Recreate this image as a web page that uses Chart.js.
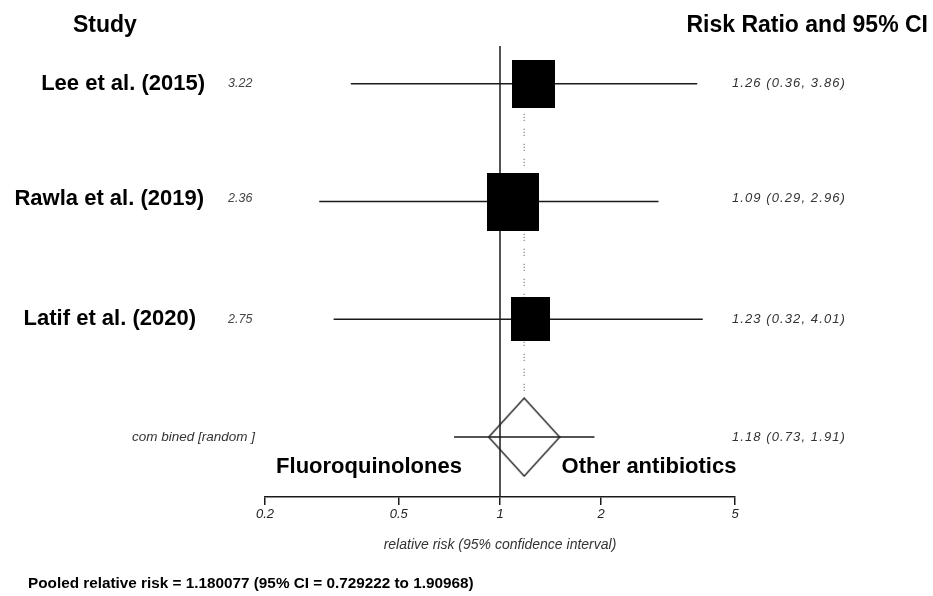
<!DOCTYPE html>
<html>
<head>
<meta charset="utf-8">
<script src="https://cdn.jsdelivr.net/npm/chart.js@4"></script>
<style>
  html, body { margin: 0; padding: 0; background: #fff; }
  canvas { display: block; }
</style>
</head>
<body>
<canvas id="forest" width="933" height="596"></canvas>
<script>
// data
const studies = ['Lee et al. (2015)', 'Rawla et al. (2019)', 'Latif et al. (2020)'];
const weights = [3.22, 2.36, 2.75];
const rr = [1.26, 1.09, 1.23];
const lower = [0.36, 0.29, 0.32];
const upper = [3.86, 2.96, 4.01];
const pooledRR = 1.18;
const pooledLower = 0.73;
const pooledUpper = 1.91;
const xTicks = [0.2, 0.5, 1, 2, 5];

// layout / style
const FONT = '"Liberation Sans", Arial, sans-serif';
const ROW_PX = 118;          // distance between rows
const AREA_TOP = 4;          // chart area top as laid out by Chart.js
const ROW0_PX = 83;          // first row, canvas px
const AXIS_PX = 497;         // axis line, canvas px
const yMin = -(ROW0_PX - AREA_TOP) / ROW_PX;
const yMax = yMin + (AXIS_PX - AREA_TOP) / ROW_PX;
const boxSizes = [[43, 48], [52, 58], [39, 44]];
const labelRight = [205, 204, 196];
const labelShift = [0, -3, 0];
const diamondW = 71, diamondH = 78;
const combinedRow = studies.length;

function boxImage(w, h) {
  const c = document.createElement('canvas');
  c.width = w; c.height = h;
  const g = c.getContext('2d');
  g.fillStyle = '#000';
  g.fillRect(0, 0, w, h);
  return c;
}

function diamondImage(w, h) {
  const c = document.createElement('canvas');
  c.width = w + 2; c.height = h + 2;
  const g = c.getContext('2d');
  g.strokeStyle = '#222';
  g.lineWidth = 1.4;
  g.beginPath();
  g.moveTo(1, h / 2 + 1);
  g.lineTo(w / 2 + 1, 1);
  g.lineTo(w + 1, h / 2 + 1);
  g.lineTo(w / 2 + 1, h + 1);
  g.closePath();
  g.stroke();
  return c;
}

const fmt = v => v.toFixed(2);

const lineDs = (pts, extra) => Object.assign({
  type: 'line',
  data: pts,
  borderColor: '#1a1a1a',
  borderWidth: 1.5,
  pointRadius: 0,
  fill: false,
  order: 5
}, extra || {});

const datasets = [];

// boxes
datasets.push({
  type: 'scatter',
  data: rr.map((v, i) => ({ x: v, y: i })),
  pointStyle: boxSizes.map(s => boxImage(s[0], s[1])),
  order: 1
});

// diamond for the pooled estimate
datasets.push({
  type: 'scatter',
  data: [{ x: pooledRR, y: combinedRow }],
  pointStyle: diamondImage(diamondW, diamondH),
  order: 1
});

// confidence intervals
rr.forEach((v, i) => {
  datasets.push(lineDs([{ x: lower[i], y: i }, { x: upper[i], y: i }]));
});
datasets.push(lineDs([{ x: pooledLower, y: combinedRow }, { x: pooledUpper, y: combinedRow }]));

// line of no effect
datasets.push(lineDs([{ x: 1, y: yMin + (45 - AREA_TOP) / ROW_PX }, { x: 1, y: yMax }], { borderWidth: 1.5 }));

// dotted line at pooled estimate
datasets.push(lineDs([{ x: pooledRR, y: 0 }, { x: pooledRR, y: combinedRow - (diamondH / 2) / ROW_PX }],
  { borderColor: '#444', borderWidth: 1, borderDash: [1, 2, 1, 2, 1, 8], order: 6 }));

const textPlugin = {
  id: 'forestText',
  afterDraw(chart) {
    const ctx = chart.ctx;
    const y = chart.scales.y;
    ctx.save();
    ctx.textBaseline = 'middle';
    ctx.fillStyle = '#000';
    ctx.font = 'bold 23px ' + FONT;
    ctx.textAlign = 'left';
    ctx.fillText('Study', 73, 26);
    ctx.textAlign = 'right';
    ctx.fillText('Risk Ratio and 95% CI', 928, 26);

    studies.forEach((s, i) => {
      const py = y.getPixelForValue(i) + labelShift[i];
      ctx.fillStyle = '#000';
      ctx.font = 'bold 22px ' + FONT;
      ctx.textAlign = 'right';
      ctx.fillText(s, labelRight[i], py);
      ctx.fillStyle = '#444';
      ctx.font = 'italic 12.5px ' + FONT;
      ctx.textAlign = 'left';
      ctx.fillText(fmt(weights[i]), 228, py);
      ctx.fillStyle = '#333';
      ctx.font = 'italic 13px ' + FONT;
      ctx.letterSpacing = '1.1px';
      ctx.textAlign = 'right';
      ctx.fillText(fmt(rr[i]) + ' (' + fmt(lower[i]) + ', ' + fmt(upper[i]) + ')', 846, py);
      ctx.letterSpacing = '0px';
    });

    const pc = y.getPixelForValue(combinedRow);
    ctx.fillStyle = '#333';
    ctx.font = 'italic 13.5px ' + FONT;
    ctx.textAlign = 'right';
    ctx.fillText('com bined [random ]', 255, pc);
    ctx.font = 'italic 13px ' + FONT;
    ctx.letterSpacing = '1.1px';
    ctx.fillText(fmt(pooledRR) + ' (' + fmt(pooledLower) + ', ' + fmt(pooledUpper) + ')', 846, pc);
    ctx.letterSpacing = '0px';

    ctx.fillStyle = '#000';
    ctx.font = 'bold 22px ' + FONT;
    ctx.textAlign = 'center';
    ctx.fillText('Fluoroquinolones', 369, 467);
    ctx.fillText('Other antibiotics', 649, 467);

    ctx.font = 'bold 15.3px ' + FONT;
    ctx.textAlign = 'left';
    ctx.fillText('Pooled relative risk = 1.180077 (95% CI = 0.729222 to 1.90968)', 28, 584);
    ctx.restore();
  }
};

new Chart(document.getElementById('forest'), {
  data: { datasets },
  options: {
    responsive: false,
    animation: false,
    layout: { padding: { left: 265, right: 198, top: 0, bottom: 38 } },
    plugins: { legend: { display: false }, tooltip: { enabled: false } },
    scales: {
      x: {
        type: 'logarithmic',
        min: 0.2,
        max: 5,
        afterBuildTicks: s => { s.ticks = xTicks.map(v => ({ value: v })); },
        afterFit: s => { s.height = 596 - 38 - AXIS_PX; },
        grid: { drawOnChartArea: false, drawTicks: true, tickLength: 8, color: '#1a1a1a', lineWidth: 1.5 },
        border: { display: true, color: '#1a1a1a', width: 1.5 },
        ticks: {
          callback: v => String(v),
          color: '#222',
          font: { family: FONT, size: 13, style: 'italic' },
          padding: 2,
          maxRotation: 0,
          autoSkip: false
        },
        title: {
          display: true,
          text: 'relative risk (95% confidence interval)',
          color: '#333',
          font: { family: FONT, size: 14, style: 'italic' },
          padding: { top: 0, bottom: 4 }
        }
      },
      y: {
        type: 'linear',
        display: false,
        reverse: true,
        min: yMin,
        max: yMax
      }
    }
  },
  plugins: [textPlugin]
});
</script>
</body>
</html>
